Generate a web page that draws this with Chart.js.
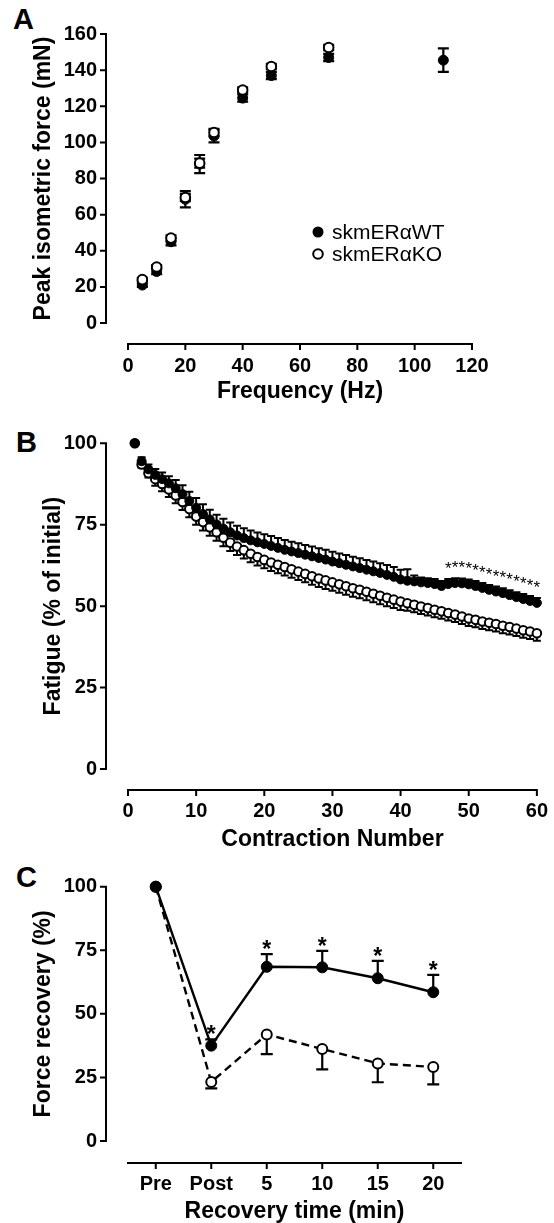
<!DOCTYPE html>
<html>
<head>
<meta charset="utf-8">
<script src="https://cdn.jsdelivr.net/npm/chart.js@4.4.0/dist/chart.umd.min.js"></script>
<style>
html,body{margin:0;padding:0;background:#fff;width:554px;height:1223px;overflow:hidden;}
canvas{position:absolute;left:0;}
.lbl{position:absolute;font-family:'Liberation Sans',Arial,sans-serif;font-weight:bold;font-size:29px;line-height:1;color:#000;}
</style>
</head>
<body>
<div class="lbl" style="left:13px;top:5px">A</div>
<div class="lbl" style="left:16px;top:428px">B</div>
<div class="lbl" style="left:16px;top:863px">C</div>
<canvas id="cA" width="554" height="420" style="top:0px"></canvas>
<canvas id="cB" width="554" height="455" style="top:400px"></canvas>
<canvas id="cC" width="554" height="373" style="top:850px"></canvas>
<script>
// ---------- Panel A: force-frequency ----------
const freqHz   = [5, 10, 15, 20, 25, 30, 40, 50, 70, 110];
const wtForceA = [21, 28.5, 45, 68.5, 88, 103.5, 124.5, 137, 147, 145.5];
const koForceA = [24, 31, 47, 69.5, 88.5, 105.5, 129, 142, 152.5, null];
const wtErrA   = [1, 1.5, 2, 4.5, 5, 3.5, 2, 2, 2, 6.5];
const koErrA   = [1, 1, 1.5, 2, 2.5, 2, 1.5, 1.5, 1.5, null];
const xTicksA  = [0, 20, 40, 60, 80, 100, 120];
const yTicksA  = [0, 20, 40, 60, 80, 100, 120, 140, 160];

// ---------- Panel B: fatigue ----------
const contraction = [1,2,3,4,5,6,7,8,9,10,11,12,13,14,15,16,17,18,19,20,21,22,23,24,25,26,27,28,29,30,
  31,32,33,34,35,36,37,38,39,40,41,42,43,44,45,46,47,48,49,50,51,52,53,54,55,56,57,58,59,60];
const wtFatigue = [100,94.5,92,90.3,89,87.7,86.2,84.4,82.3,80.2,78.3,76.6,75.1,73.8,72.7,71.7,70.9,70.2,69.6,69.1,
  68.5,67.9,67.3,66.8,66.3,65.8,65.3,64.8,64.3,63.7,63.2,62.7,62.2,61.7,61.2,60.7,60.2,59.6,59,58.2,
  57.8,57.6,57.3,57.1,56.8,56.2,56.8,57.1,57,56.7,56.2,55.6,55,54.5,54,53.4,52.8,52.2,51.6,51];
const koFatigue = [100,93.5,90.8,89,87.5,85.8,84,82,79.8,77.5,75.8,74.2,72.7,71,69.5,68.3,67.2,66.1,65.1,64.2,
  63.4,62.7,62,61.3,60.6,59.9,59.2,58.5,57.9,57.3,56.7,56.1,55.5,55,54.4,53.8,53.2,52.6,52,51.4,
  50.9,50.4,49.9,49.4,48.9,48.4,47.9,47.4,46.8,46.2,45.8,45.3,44.9,44.5,44,43.6,43.1,42.6,42.2,41.7];
const wtErrB = [0,1.2,1.5,1.8,2,2.2,2.5,2.7,2.8,3,3,3,3,3,3,3,3,3,3,3,
  3,3,3,3,3,3,3,3,3,3,3,3,3,3,3,3,3,3,3,3,
  3.5,1.8,1.5,1.5,1.5,1.5,1.5,1.5,1.5,1.5,1.5,1.5,1.5,1.5,1.5,1.5,1.5,1.5,1.5,1.5];
const koErrB = [0,1,1.3,2,2.2,2.3,2.4,2.5,2.5,2.5,2.6,2.6,2.6,2.6,2.6,2.6,2.6,2.6,2.6,2.6,
  2.6,2.6,2.6,2.6,2.6,2.6,2.6,2.6,2.6,2.6,2.6,2.6,2.6,2.6,2.6,2.6,2.6,2.6,2.6,2.6,
  2.3,2.3,2.3,2.3,2.3,2.3,2.3,2.3,2.3,2.3,2.3,2.3,2.3,2.3,2.3,2.3,2.3,2.3,2.3,2.3];
const sigB = [47,48,49,50,51,52,53,54,55,56,57,58,59,60];

// ---------- Panel C: recovery ----------
const recoveryLabels = ['Pre', 'Post', '5', '10', '15', '20'];
const wtRecovery = [100, 37.5, 68.5, 68.3, 64, 58.5];
const koRecovery = [100, 23.2, 41.9, 36.2, 30.5, 29.1];
const wtErrC = [0, 2.5, 5, 6.5, 6.8, 6.8];
const koErrC = [0, 2.5, 7.7, 8, 7.4, 6.8];
const sigC = ['Post', '5', '10', '15', '20'];

const FONT = "'Liberation Sans', Arial, sans-serif";
const tickFont = {family: FONT, size: 20, weight: 'bold', lineHeight: 1};
const titleFont = {family: FONT, size: 23, weight: 'bold', lineHeight: 1};

// GraphPad-style detached axes
function axesPlugin(xGap, yGap) {
  return {
    id: 'gpAxes',
    afterDraw(chart) {
      const {ctx, chartArea: ca, scales: {x, y}} = chart;
      ctx.save();
      ctx.strokeStyle = '#000';
      ctx.lineWidth = 2;
      const ax = ca.left - yGap;
      ctx.beginPath();
      ctx.moveTo(ax, y.getPixelForValue(y.max) - 1);
      ctx.lineTo(ax, y.getPixelForValue(y.min) + 1);
      y.ticks.forEach((t, i) => {
        const py = y.getPixelForTick(i);
        ctx.moveTo(ax - 6, py); ctx.lineTo(ax, py);
      });
      const ay = ca.bottom + xGap;
      ctx.moveTo(ca.left - 1, ay);
      ctx.lineTo(ca.right + 1, ay);
      x.ticks.forEach((t, i) => {
        const px = x.getPixelForTick(i);
        ctx.moveTo(px, ay); ctx.lineTo(px, ay + 6);
      });
      ctx.stroke();
      ctx.restore();
    }
  };
}

// error bars: dir 'both' | 'up' | 'down'
function errorBarsPlugin(sets) {
  return {
    id: 'errBars',
    beforeDatasetsDraw(chart) {
      const {ctx, scales: {y}} = chart;
      ctx.save();
      ctx.strokeStyle = '#000';
      sets.forEach(s => {
        const meta = chart.getDatasetMeta(s.dataset);
        ctx.lineWidth = s.width;
        meta.data.forEach((el, i) => {
          const v = s.values[i], e = s.err[i];
          if (v == null || e == null || !e) return;
          const px = el.x;
          const top = y.getPixelForValue(s.dir === 'down' ? v : v + e);
          const bot = y.getPixelForValue(s.dir === 'up' ? v : v - e);
          ctx.beginPath();
          ctx.moveTo(px, top); ctx.lineTo(px, bot);
          if (s.dir !== 'down') { ctx.moveTo(px - s.cap, top); ctx.lineTo(px + s.cap, top); }
          if (s.dir !== 'up') { ctx.moveTo(px - s.cap, bot); ctx.lineTo(px + s.cap, bot); }
          ctx.stroke();
        });
      });
      ctx.restore();
    }
  };
}

// significance stars above the upper error bar
function starsPlugin(s) {
  return {
    id: 'stars',
    afterDatasetsDraw(chart) {
      const {ctx, scales: {y}} = chart;
      const meta = chart.getDatasetMeta(s.dataset);
      ctx.save();
      ctx.fillStyle = '#000';
      ctx.font = s.font;
      ctx.textAlign = 'center';
      ctx.textBaseline = 'alphabetic';
      meta.data.forEach((el, i) => {
        if (!s.marked.includes(s.keys[i])) return;
        const top = y.getPixelForValue(s.values[i] + s.err[i]);
        ctx.fillText('*', el.x, top + s.dy);
      });
      ctx.restore();
    }
  };
}

const legendA = {
  id: 'legendA',
  afterDraw(chart) {
    const {ctx, chartArea: ca} = chart;
    const mx = ca.left + 190, tx = ca.left + 204;
    const rows = [['skmERαWT', true, 198], ['skmERαKO', false, 220]];
    ctx.save();
    ctx.font = '21px ' + FONT;
    ctx.textBaseline = 'middle';
    ctx.fillStyle = '#000';
    rows.forEach(([txt, filled, dy]) => {
      const my = ca.top + dy;
      ctx.beginPath();
      ctx.arc(mx, my, filled ? 5.5 : 4.8, 0, Math.PI * 2);
      if (filled) { ctx.fillStyle = '#000'; ctx.fill(); }
      else { ctx.fillStyle = '#fff'; ctx.fill(); ctx.lineWidth = 2; ctx.strokeStyle = '#000'; ctx.stroke(); }
      ctx.fillStyle = '#000';
      ctx.fillText(txt, tx, my + 1);
    });
    ctx.restore();
  }
};

function baseOptions(c) {
  return {
    responsive: false,
    animation: false,
    devicePixelRatio: 1,
    events: [],
    layout: {padding: {left: 0, top: c.padTop, right: c.padRight, bottom: 0}},
    plugins: {legend: {display: false}, tooltip: {enabled: false}},
    scales: {
      x: Object.assign({
        grid: {display: false, drawTicks: true, tickLength: c.xGap + 5},
        border: {display: false},
        title: {display: true, text: c.xTitle, color: '#000', font: titleFont, padding: {top: 0, bottom: c.xTitlePad}},
        afterFit: s => { s.height = c.xHeight; }
      }, c.x),
      y: {
        type: 'linear', min: c.yMin, max: c.yMax,
        grid: {display: false, drawTicks: true, tickLength: c.yGap + 6},
        border: {display: false},
        ticks: {color: '#000', font: tickFont, padding: 3, stepSize: c.yStep, autoSkip: false},
        title: {display: true, text: c.yTitle, color: '#000', font: titleFont, padding: {top: c.yTitlePad, bottom: 0}},
        afterFit: s => { s.width = 128; }
      }
    }
  };
}

const filled = (r) => ({pointRadius: r, pointBackgroundColor: '#000', pointBorderColor: '#000', pointBorderWidth: 1, clip: false});
const open = (r) => ({pointRadius: r, pointBackgroundColor: '#fff', pointBorderColor: '#000', pointBorderWidth: 2, clip: false});

// ---- Chart A ----
new Chart(document.getElementById('cA'), {
  type: 'scatter',
  data: {
    datasets: [
      Object.assign({label: 'skmERαKO', data: freqHz.map((f, i) => ({x: f, y: koForceA[i]}))}, open(4.8)),
      Object.assign({label: 'skmERαWT', data: freqHz.map((f, i) => ({x: f, y: wtForceA[i]}))}, filled(5))
    ]
  },
  options: baseOptions({
    padTop: 34, padRight: 82, xGap: 21, yGap: 22, xHeight: 97, xTitlePad: 16.5,
    xTitle: 'Frequency (Hz)', yTitle: 'Peak isometric force (mN)', yTitlePad: 32,
    yMin: yTicksA[0], yMax: yTicksA[yTicksA.length - 1], yStep: yTicksA[1] - yTicksA[0],
    x: {type: 'linear', min: xTicksA[0], max: xTicksA[xTicksA.length - 1],
        ticks: {color: '#000', font: tickFont, padding: 7, stepSize: xTicksA[1] - xTicksA[0], maxRotation: 0, autoSkip: false}}
  }),
  plugins: [
    axesPlugin(21, 22),
    errorBarsPlugin([
      {dataset: 1, values: wtForceA, err: wtErrA, dir: 'both', cap: 5.5, width: 2.2},
      {dataset: 0, values: koForceA, err: koErrA, dir: 'both', cap: 5.5, width: 2.2}
    ]),
    legendA
  ]
});

// ---- Chart B ----
new Chart(document.getElementById('cB'), {
  type: 'scatter',
  data: {
    datasets: [
      Object.assign({label: 'skmERαWT', data: contraction.map((c, i) => ({x: c, y: wtFatigue[i]}))}, filled(4.5)),
      Object.assign({label: 'skmERαKO', data: contraction.map((c, i) => ({x: c, y: koFatigue[i]}))}, open(4.3))
    ]
  },
  options: baseOptions({
    padTop: 43.3, padRight: 17, xGap: 21, yGap: 22, xHeight: 86, xTitlePad: 4,
    xTitle: 'Contraction Number', yTitle: 'Fatigue (% of initial)', yTitlePad: 42,
    yMin: 0, yMax: 100, yStep: 25,
    x: {type: 'linear', min: 0, max: 60,
        ticks: {color: '#000', font: tickFont, padding: 6, stepSize: 10, maxRotation: 0, autoSkip: false}}
  }),
  plugins: [
    axesPlugin(21, 22),
    errorBarsPlugin([
      {dataset: 0, values: wtFatigue, err: wtErrB, dir: 'up', cap: 4, width: 2},
      {dataset: 1, values: koFatigue, err: koErrB, dir: 'down', cap: 4, width: 2}
    ]),
    starsPlugin({dataset: 0, keys: contraction, marked: sigB, values: wtFatigue, err: wtErrB, font: '17px ' + FONT, dy: -5})
  ]
});

// ---- Chart C ----
new Chart(document.getElementById('cC'), {
  type: 'line',
  data: {
    labels: recoveryLabels,
    datasets: [
      Object.assign({label: 'skmERαWT', data: wtRecovery, borderColor: '#000', borderWidth: 2.4, tension: 0}, filled(5.5)),
      Object.assign({label: 'skmERαKO', data: koRecovery, borderColor: '#000', borderWidth: 2.4, borderDash: [8, 5], tension: 0}, open(5))
    ]
  },
  options: baseOptions({
    padTop: 36.7, padRight: 93, xGap: 22, yGap: 22, xHeight: 82, xTitlePad: 0.3,
    xTitle: 'Recovery time (min)', yTitle: 'Force recovery (%)', yTitlePad: 32,
    yMin: 0, yMax: 100, yStep: 25,
    x: {type: 'category', offset: true,
        ticks: {color: '#000', font: tickFont, padding: 6.5, maxRotation: 0, autoSkip: false}}
  }),
  plugins: [
    axesPlugin(22, 22),
    errorBarsPlugin([
      {dataset: 0, values: wtRecovery, err: wtErrC, dir: 'up', cap: 6, width: 2.2},
      {dataset: 1, values: koRecovery, err: koErrC, dir: 'down', cap: 6, width: 2.2}
    ]),
    starsPlugin({dataset: 0, keys: recoveryLabels, marked: sigC, values: wtRecovery, err: wtErrC, font: 'bold 23px ' + FONT, dy: 3})
  ]
});
</script>
</body>
</html>
